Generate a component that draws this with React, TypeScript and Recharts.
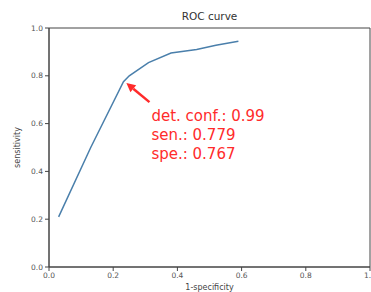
import React from 'react';
import {
  LineChart,
  Line,
  XAxis,
  YAxis,
  ReferenceArea,
  ReferenceLine,
  ReferenceDot,
  Label,
} from 'recharts';

// ROC curve points
const fpr = [0.03, 0.13, 0.232, 0.25, 0.31, 0.38, 0.46, 0.52, 0.59];
const tpr = [0.21, 0.5, 0.775, 0.8, 0.855, 0.895, 0.91, 0.928, 0.945];

const xTicks = [0, 0.2, 0.4, 0.6, 0.8, 1.0];
const yTicks = [0, 0.2, 0.4, 0.6, 0.8, 1.0];

// annotation: arrow tail -> head, and the text block anchor
const arrowFrom = { x: 0.313, y: 0.69 };
const arrowTo = { x: 0.241, y: 0.77 };
const noteAnchor = { x: 0.319, y: 0.612 };
const noteLines = ['det. conf.: 0.99', 'sen.: 0.779', 'spe.: 0.767'];

const data = fpr.map((x, i) => ({ fpr: x, tpr: tpr[i] }));

const FONT = '"DejaVu Sans", sans-serif';
const AXIS = '#444';
const RED = '#ff2b2b';

const Arrow = (props: any) => {
  const { x1, y1, x2, y2 } = props;
  const dx = x2 - x1;
  const dy = y2 - y1;
  const len = Math.sqrt(dx * dx + dy * dy) || 1;
  const ux = dx / len;
  const uy = dy / len;
  const headLen = 9;
  const headW = 4.5;
  const bx = x2 - ux * headLen;
  const by = y2 - uy * headLen;
  const pts = `${x2},${y2} ${bx - uy * headW},${by + ux * headW} ${bx + uy * headW},${by - ux * headW}`;
  return (
    <g>
      <line x1={x1} y1={y1} x2={bx} y2={by} stroke={RED} strokeWidth={2.5} />
      <polygon points={pts} fill={RED} />
    </g>
  );
};

const NoteText = (props: any) => {
  const { cx, cy } = props;
  return (
    <g>
      {noteLines.map((t, i) => (
        <text
          key={t}
          x={cx}
          y={cy + i * 19}
          fill={RED}
          fontSize={15}
          fontFamily={FONT}
        >
          {t}
        </text>
      ))}
    </g>
  );
};

export default function App() {
  const tick = { fill: '#555', fontSize: 7.5, fontFamily: FONT };
  return (
    <div
      style={{
        position: 'absolute',
        left: 0,
        top: 0,
        width: 371,
        height: 292,
        overflow: 'hidden',
        background: '#fff',
      }}
    >
      <div
        style={{
          position: 'absolute',
          left: 49,
          width: 321,
          top: 10,
          textAlign: 'center',
          fontFamily: FONT,
          fontSize: 10.5,
          color: '#333',
        }}
      >
        ROC curve
      </div>
      <LineChart
        width={371}
        height={292}
        data={data}
        margin={{ top: 28, right: 1, left: 0, bottom: 0 }}
      >
        <XAxis
          dataKey="fpr"
          type="number"
          domain={[0, 1]}
          ticks={xTicks}
          tickFormatter={(v: number) => v.toFixed(1)}
          height={25}
          tick={tick}
          tickSize={4}
          tickMargin={2}
          axisLine={{ stroke: AXIS }}
          tickLine={{ stroke: AXIS }}
          interval={0}
        >
          <Label
            content={(p: any) => {
              const vb = p.viewBox;
              return (
                <text
                  x={vb.x + vb.width / 2}
                  y={290}
                  textAnchor="middle"
                  fontSize={8}
                  fontFamily={FONT}
                  fill="#444"
                >
                  1-specificity
                </text>
              );
            }}
          />
        </XAxis>
        <YAxis
          type="number"
          domain={[0, 1]}
          ticks={yTicks}
          tickFormatter={(v: number) => v.toFixed(1)}
          width={49}
          tick={tick}
          tickSize={4}
          tickMargin={2}
          axisLine={{ stroke: AXIS }}
          tickLine={{ stroke: AXIS }}
          interval={0}
        >
          <Label
            content={(p: any) => {
              const vb = p.viewBox;
              const cy = vb.y + vb.height / 2;
              return (
                <text
                  x={20}
                  y={cy}
                  transform={`rotate(-90 20 ${cy})`}
                  textAnchor="middle"
                  fontSize={8}
                  fontFamily={FONT}
                  fill="#444"
                >
                  sensitivity
                </text>
              );
            }}
          />
        </YAxis>
        <ReferenceArea
          x1={0}
          x2={1}
          y1={0}
          y2={1}
          fill="none"
          stroke={AXIS}
          strokeWidth={1}
          ifOverflow="visible"
        />
        <Line
          dataKey="tpr"
          stroke="#4a7fab"
          strokeWidth={1.5}
          dot={false}
          isAnimationActive={false}
        />
        <ReferenceLine
          segment={[arrowFrom, arrowTo]}
          shape={Arrow}
          ifOverflow="visible"
        />
        <ReferenceDot
          x={noteAnchor.x}
          y={noteAnchor.y}
          r={0}
          shape={NoteText}
          ifOverflow="visible"
        />
      </LineChart>
    </div>
  );
}
